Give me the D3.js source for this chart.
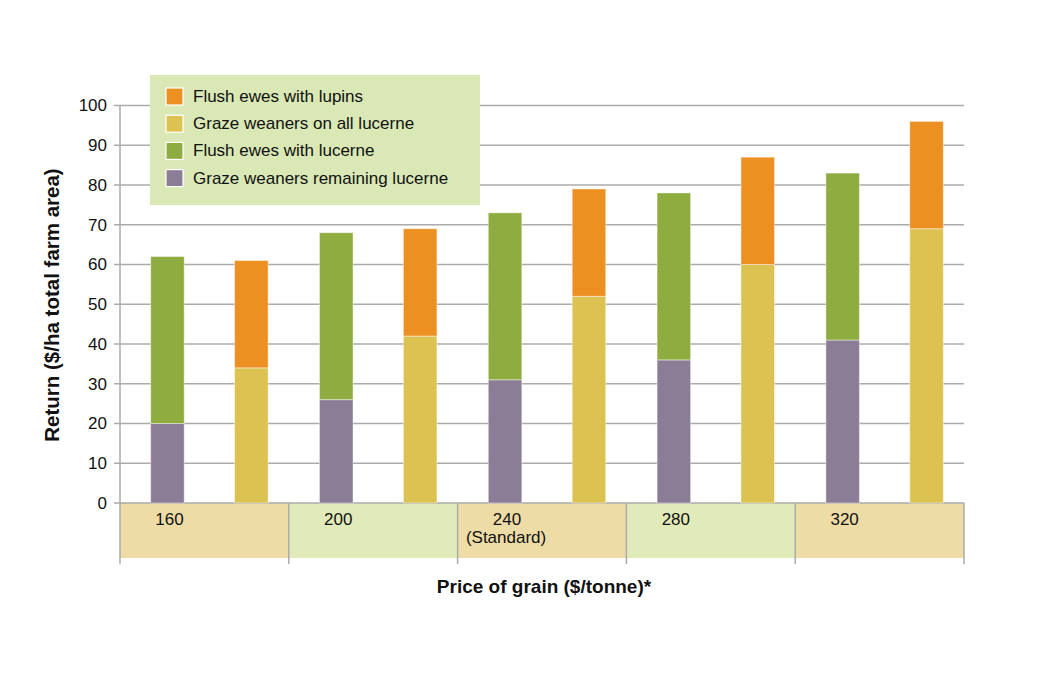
<!DOCTYPE html>
<html lang="en">
<head>
<meta charset="UTF-8">
<title>Return by price of grain</title>
<script src="https://d3js.org/d3.v7.min.js"></script>
<style>
  body { margin: 0; background: #fff; }
  svg { font-family: "Liberation Sans", Arial, sans-serif; }
</style>
</head>
<body>
<div id="chart"></div>
<script>
// categories and values
const prices = ["160", "200", "240", "280", "320"];
const priceNotes = ["", "", "(Standard)", "", ""];
const remainingLucerne = [20, 26, 31, 36, 41];   // Graze weaners remaining lucerne
const flushLucerne = [42, 42, 42, 42, 42];        // Flush ewes with lucerne (stacked on top)
const allLucerne = [34, 42, 52, 60, 69];          // Graze weaners on all lucerne
const flushLupins = [27, 27, 27, 27, 27];         // Flush ewes with lupins (stacked on top)
const yTicks = [0, 10, 20, 30, 40, 50, 60, 70, 80, 90, 100];

const legendItems = [
  {label: "Flush ewes with lupins", color: "#ec9022"},
  {label: "Graze weaners on all lucerne", color: "#dcc250"},
  {label: "Flush ewes with lucerne", color: "#8fac40"},
  {label: "Graze weaners remaining lucerne", color: "#8b7d95"}
];
const colors = {
  remaining: "#8b7d95", flushLuc: "#8fac40", all: "#dcc250", lupins: "#ec9022"
};

const width = 1040, height = 674;
const plotLeft = 120, plotRight = 964, plotTop = 105.5, plotBottom = 503;

const svg = d3.select("#chart").append("svg")
  .attr("width", width)
  .attr("height", height);

// scales
const x0 = d3.scaleBand().domain(prices).range([plotLeft, plotRight]).padding(0);
const x1 = d3.scaleBand().domain(["a", "b"])
  .range([5.5, x0.bandwidth() + 4.5])
  .paddingInner(0.6).paddingOuter(0.3);
const y = d3.scaleLinear().domain([0, 100]).range([plotBottom, plotTop]);

// category band below the axis
const bandFill = ["#eedca6", "#e0ebb9"];
svg.append("g").selectAll("rect")
  .data(prices)
  .join("rect")
    .attr("x", d => x0(d))
    .attr("y", plotBottom)
    .attr("width", x0.bandwidth())
    .attr("height", 55)
    .attr("fill", (d, i) => bandFill[i % 2]);

// gridlines
svg.append("g").selectAll("line")
  .data(yTicks)
  .join("line")
    .attr("x1", plotLeft - 6)
    .attr("x2", plotRight)
    .attr("y1", d => y(d))
    .attr("y2", d => y(d))
    .attr("stroke", "#ababab")
    .attr("stroke-width", 1.5);

// y axis line
svg.append("line")
  .attr("x1", plotLeft).attr("x2", plotLeft)
  .attr("y1", y(100)).attr("y2", plotBottom + 61)
  .attr("stroke", "#ababab").attr("stroke-width", 1.5);

// separators in category band
svg.append("g").selectAll("line")
  .data(prices.slice(1).map(d => x0(d)).concat([plotRight]))
  .join("line")
    .attr("x1", d => d).attr("x2", d => d)
    .attr("y1", plotBottom).attr("y2", plotBottom + 61)
    .attr("stroke", "#ababab").attr("stroke-width", 1.5);

// y tick labels
svg.append("g").selectAll("text")
  .data(yTicks)
  .join("text")
    .attr("x", plotLeft - 13)
    .attr("y", d => y(d))
    .attr("dy", "0.35em")
    .attr("text-anchor", "end")
    .attr("font-size", 17)
    .attr("fill", "#111")
    .text(d => d);

// stacked bars
const bars = [];
prices.forEach((p, i) => {
  bars.push({p, k: "a", y0: 0, y1: remainingLucerne[i], c: colors.remaining});
  bars.push({p, k: "a", y0: remainingLucerne[i], y1: remainingLucerne[i] + flushLucerne[i], c: colors.flushLuc});
  bars.push({p, k: "b", y0: 0, y1: allLucerne[i], c: colors.all});
  bars.push({p, k: "b", y0: allLucerne[i], y1: allLucerne[i] + flushLupins[i], c: colors.lupins});
});

svg.append("g").selectAll("rect")
  .data(bars)
  .join("rect")
    .attr("x", d => x0(d.p) + x1(d.k))
    .attr("y", d => y(d.y1))
    .attr("width", x1.bandwidth())
    .attr("height", d => y(d.y0) - y(d.y1))
    .attr("fill", d => d.c)
    .attr("stroke", "rgba(255,255,255,0.45)")
    .attr("stroke-width", 1);

// category labels
const catLabels = svg.append("g").selectAll("text")
  .data(prices)
  .join("text")
    .attr("text-anchor", "middle")
    .attr("font-size", 17)
    .attr("fill", "#111");
catLabels.append("tspan")
  .attr("x", d => x0(d) + x1("a") + x1.bandwidth() / 2 + 2)
  .attr("y", plotBottom + 22)
  .text(d => d);
catLabels.append("tspan")
  .attr("x", d => x0(d) + x1("a") + x1.bandwidth() / 2 + 1)
  .attr("y", plotBottom + 40)
  .text((d, i) => priceNotes[i]);

// axis titles
svg.append("text")
  .attr("x", 544)
  .attr("y", 593)
  .attr("text-anchor", "middle")
  .attr("font-size", 19)
  .attr("font-weight", "bold")
  .attr("fill", "#111")
  .text("Price of grain ($/tonne)*");

svg.append("text")
  .attr("transform", "translate(59,305) rotate(-90)")
  .attr("text-anchor", "middle")
  .attr("font-size", 20.5)
  .attr("font-weight", "bold")
  .attr("fill", "#111")
  .text("Return ($/ha total farm area)");

// legend
const legend = svg.append("g").attr("transform", "translate(150,75)");
legend.append("rect")
  .attr("width", 330)
  .attr("height", 130)
  .attr("fill", "#d9e8b5");
const li = legend.selectAll("g.item")
  .data(legendItems)
  .join("g")
    .attr("class", "item")
    .attr("transform", (d, i) => `translate(16,${21 + i * 27.2})`);
li.append("rect")
  .attr("x", 0).attr("y", -8)
  .attr("width", 17).attr("height", 17)
  .attr("fill", d => d.color)
  .attr("stroke", "#fff").attr("stroke-width", 1.2);
li.append("text")
  .attr("x", 27)
  .attr("dy", "0.35em")
  .attr("font-size", 17)
  .attr("fill", "#111")
  .text(d => d.label);
</script>
</body>
</html>
